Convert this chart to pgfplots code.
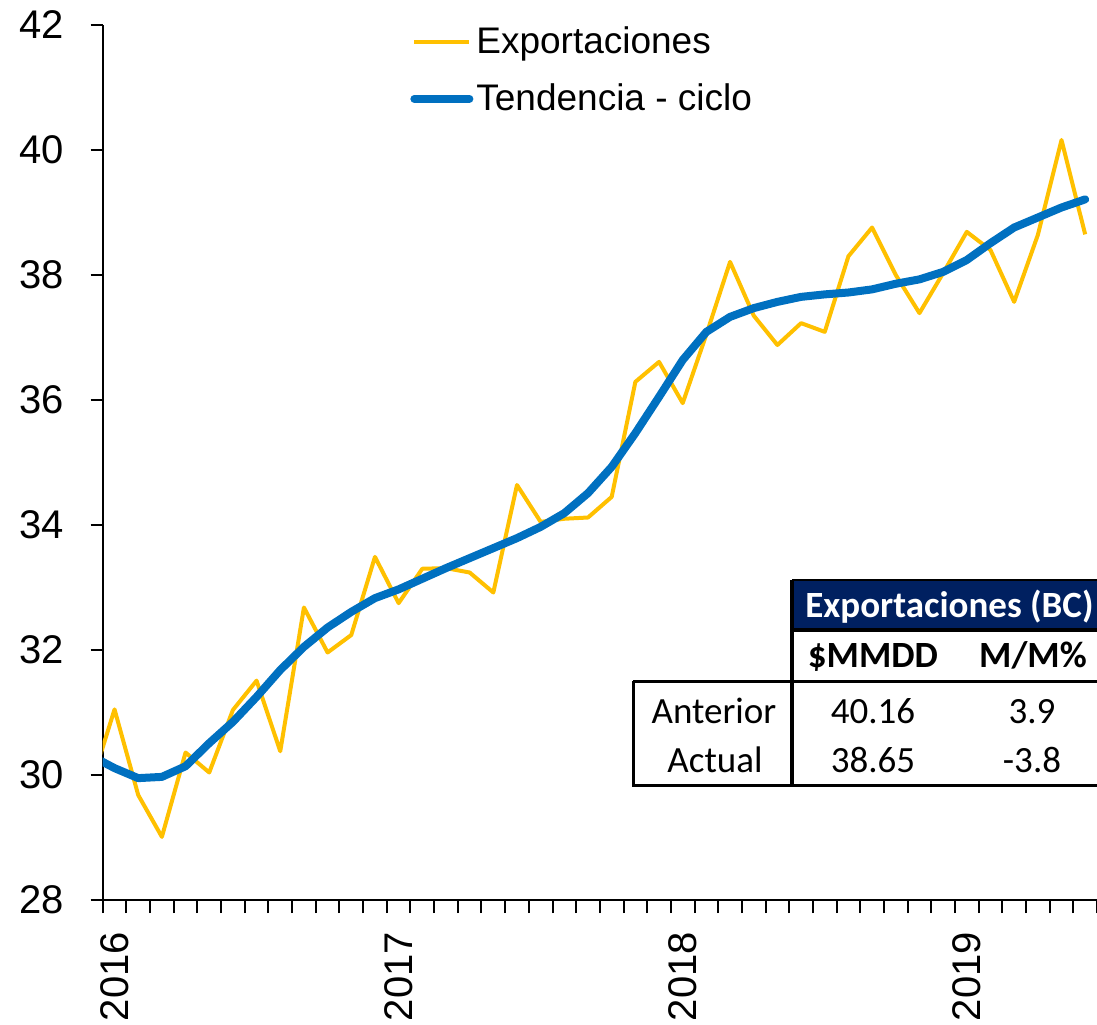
\documentclass[border=0pt]{standalone}
\usepackage{fontspec}
\setmainfont{Liberation Sans}
\newfontfamily\carlito{Carlito}
\usepackage{pgfplots}
\pgfplotsset{compat=1.18}
\definecolor{expo}{HTML}{FFC000}
\definecolor{tend}{HTML}{0070C0}
\definecolor{navy}{HTML}{002060}

% month index k, plotted at k+0.5 (Dec 2015 = -0.5, clipped)
\pgfplotstableread{
x     expo   tend
-0.5  29.83  30.31
0.5   31.05  30.11
1.5   29.68  29.95
2.5   29.01  29.97
3.5   30.36  30.14
4.5   30.04  30.51
5.5   31.04  30.85
6.5   31.51  31.25
7.5   30.38  31.68
8.5   32.68  32.05
9.5   31.96  32.36
10.5  32.24  32.61
11.5  33.49  32.83
12.5  32.75  32.97
13.5  33.30  33.14
14.5  33.31  33.31
15.5  33.24  33.47
16.5  32.92  33.63
17.5  34.64  33.79
18.5  34.05  33.97
19.5  34.10  34.19
20.5  34.12  34.51
21.5  34.45  34.93
22.5  36.29  35.47
23.5  36.61  36.05
24.5  35.95  36.64
25.5  37.05  37.09
26.5  38.21  37.33
27.5  37.35  37.47
28.5  36.88  37.57
29.5  37.23  37.65
30.5  37.09  37.69
31.5  38.30  37.72
32.5  38.76  37.77
33.5  38.00  37.86
34.5  37.39  37.93
35.5  38.03  38.05
36.5  38.69  38.24
37.5  38.40  38.51
38.5  37.57  38.76
39.5  38.64  38.92
40.5  40.16  39.08
41.5  38.65  39.21
}\datos

\begin{document}
\begin{tikzpicture}
\begin{axis}[
    name=ax,
    scale only axis,
    width=497.15pt,
    height=437.5pt,
    xmin=0, xmax=42,
    ymin=28, ymax=42,
    axis lines=left,
    axis line style={-, line width=1pt},
    ytick={28,30,...,42},
    xtick={0.5,12.5,24.5,36.5},
    xticklabels={2016,2017,2018,2019},
    minor xtick={0,1,...,42},
    tick align=outside,
    major tick length=6pt,
    minor tick length=6.5pt,
    tick style={black, line width=1pt},
    major x tick style={draw=none},
    x tick label style={rotate=90, anchor=east, xshift=-6.5pt},
    y tick label style={xshift=-10pt},
    tick label style={font=\fontsize{20}{24}\selectfont},
    /pgf/number format/assume math mode=true,
    legend style={at={(0.303,1.006)}, anchor=north west, draw=none, fill=none,
        font=\fontsize{18.5}{22}\selectfont, row sep=10.5pt,
        nodes={inner sep=1.5pt}},
    legend cell align=left,
    legend image code/.code={\draw[#1] (0pt,0pt) -- (27.5pt,0pt);},
]
\addplot[expo, line width=2pt, line join=round] table[x=x, y=expo] {\datos};
\addlegendentry{Exportaciones}
\addplot[tend, line width=4pt, line join=round, line cap=round] table[x=x, y=tend] {\datos};
\addlegendentry{Tendencia - ciclo}
\end{axis}

\coordinate (O) at ([xshift=-51.35pt, yshift=450pt]ax.south west);
\begin{scope}[shift={(O)}, x=0.5pt, y=-0.5pt]
  % summary table
  \fill[navy] (792,580) rectangle (1120,629);
  \draw[line width=1pt] (792,580) -- (1120,580);
  \draw[line width=2pt] (792,630) -- (1120,630);
  \draw[line width=2pt] (792,580) -- (792,785);
  \draw[line width=1.5pt] (633,681) -- (1120,681);
  \draw[line width=1.5pt] (633,681) -- (633,785) -- (1120,785);
  \begin{scope}[every node/.style={font=\carlito\fontsize{18.5}{22}\selectfont, inner sep=0pt}]
    \node[anchor=base west, text=white, font=\carlito\bfseries\fontsize{18.5}{22}\selectfont] at (805,617) {Exportaciones (BC)};
    \node[anchor=base, font=\carlito\bfseries\fontsize{18.5}{22}\selectfont] at (873,667) {\$MMDD};
    \node[anchor=base, font=\carlito\bfseries\fontsize{18.5}{22}\selectfont] at (1033,667) {M/M\%};
    \node[anchor=base] at (714,723) {Anterior};
    \node[anchor=base] at (873,723) {40.16};
    \node[anchor=base] at (1032,723) {3.9};
    \node[anchor=base] at (715,772) {Actual};
    \node[anchor=base] at (873,772) {38.65};
    \node[anchor=base] at (1032,772) {-3.8};
  \end{scope}
  \pgfresetboundingbox
  \path[use as bounding box] (0,0) rectangle (1097,1024);
\end{scope}
\end{tikzpicture}
\end{document}
